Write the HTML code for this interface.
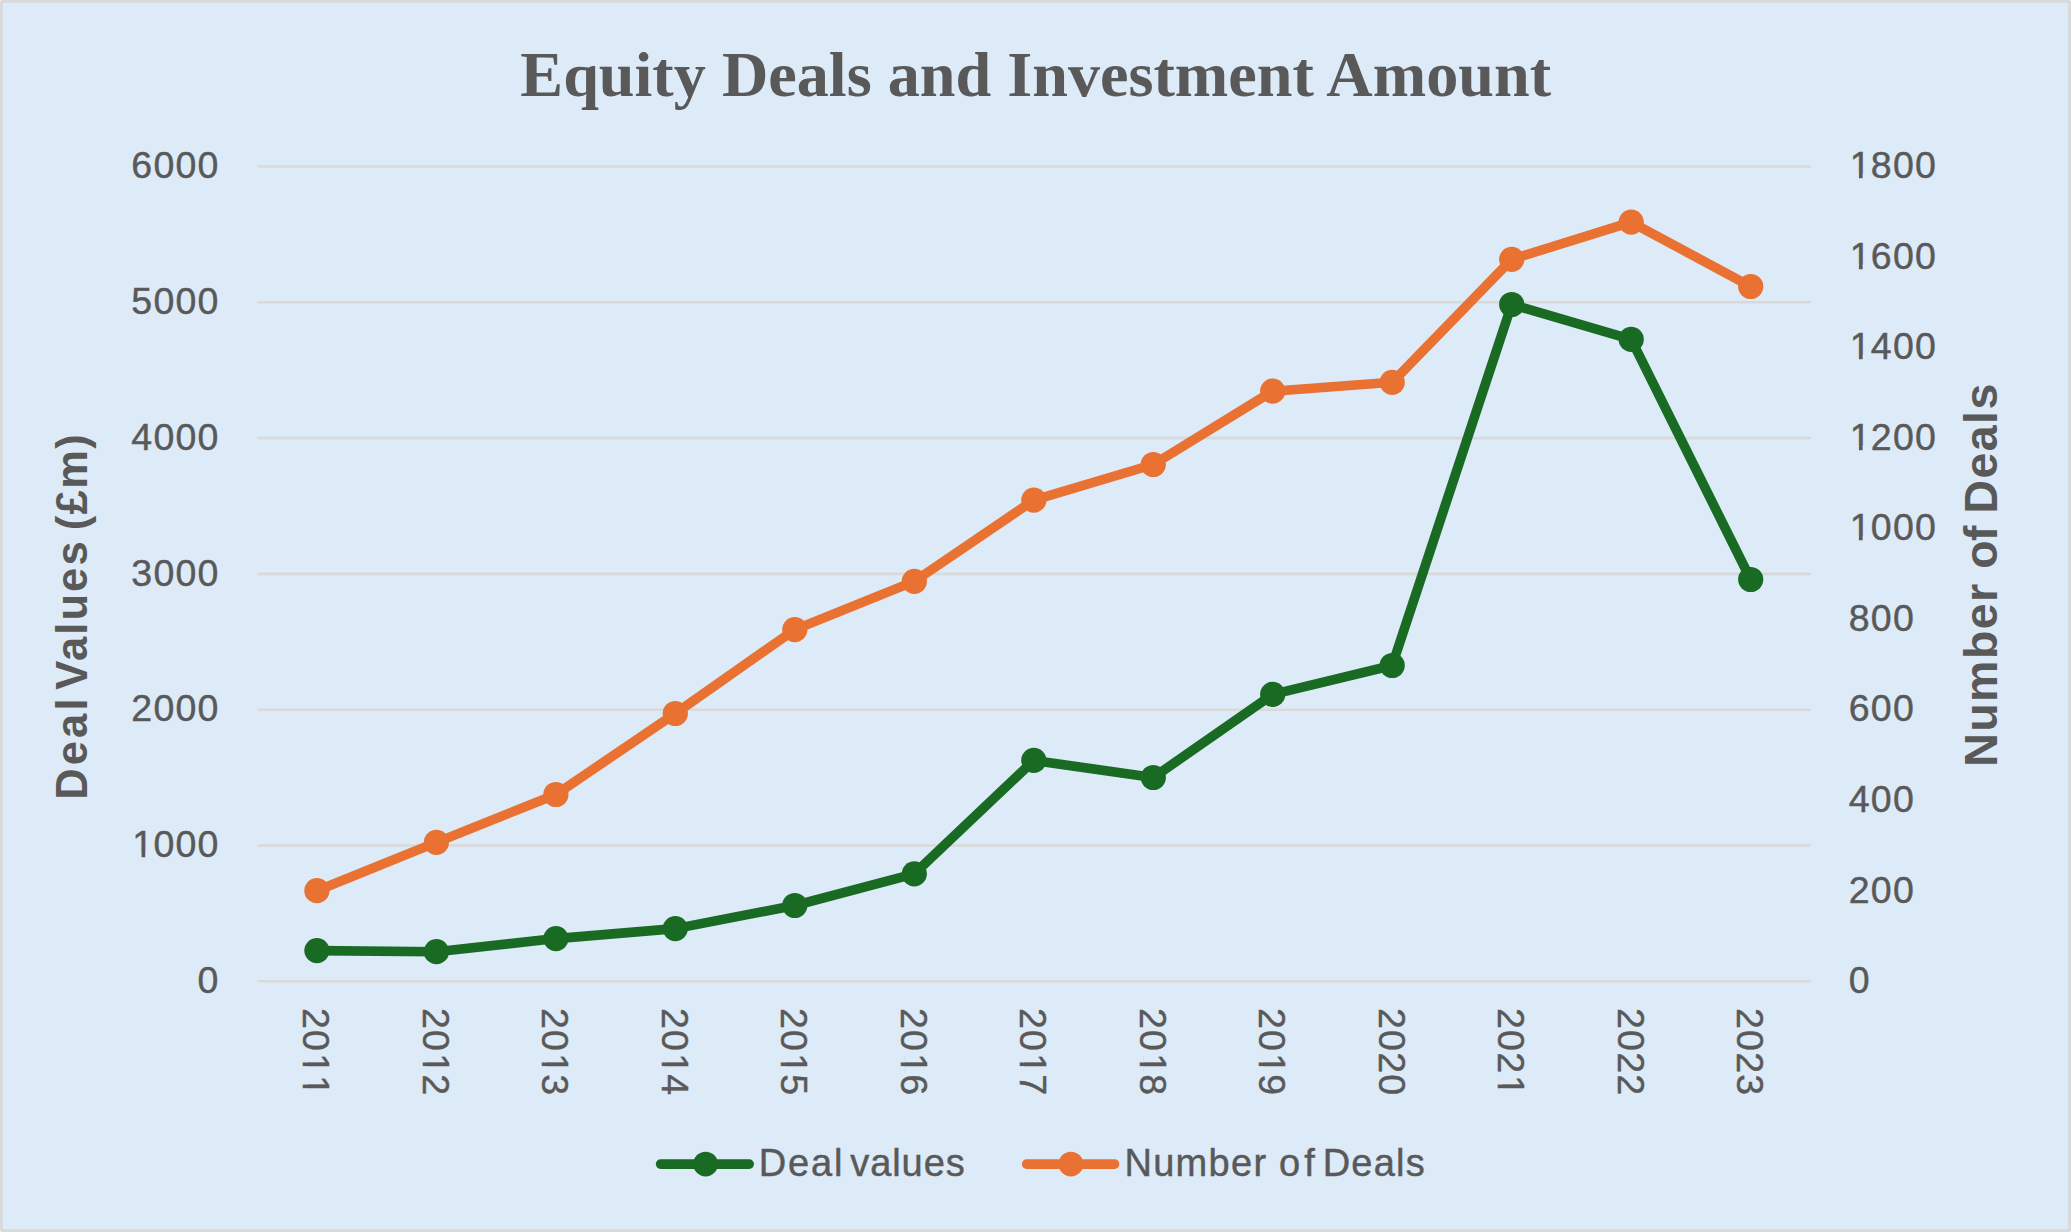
<!DOCTYPE html>
<html lang="en"><head><meta charset="utf-8"><title>Equity Deals and Investment Amount</title>
<style>
html,body{margin:0;padding:0;background:#fff;}
body{width:2071px;height:1232px;overflow:hidden;}
svg{display:block;}
text{font-family:"Liberation Sans",sans-serif;fill:#595959;}
.num,.cat,.leg{stroke:#595959;stroke-width:0.45px;}
.num{font-size:37.5px;}
.cat{font-size:37.5px;}
.title{font-family:"Liberation Serif",serif;font-weight:bold;font-size:64.2px;letter-spacing:0px;}
.lt{font-weight:bold;font-size:43.5px;letter-spacing:0px;}
.rt{font-weight:bold;font-size:46.5px;letter-spacing:0px;}
.leg{font-size:38px;letter-spacing:0px;}
</style></head><body>
<svg xmlns="http://www.w3.org/2000/svg" width="2071" height="1232" viewBox="0 0 2071 1232">
<rect x="0" y="0" width="2071" height="1232" rx="2" ry="2" fill="#D9D9D9"/>
<rect x="2.8" y="2.8" width="2065.4" height="1226.4" rx="0.8" ry="0.8" fill="#DDEAF7"/>
<g stroke="#D9D9D9" stroke-width="2.6" stroke-linecap="round">
<line x1="258.7" y1="981.3" x2="1809.6" y2="981.3"/>
<line x1="258.7" y1="845.5" x2="1809.6" y2="845.5"/>
<line x1="258.7" y1="709.7" x2="1809.6" y2="709.7"/>
<line x1="258.7" y1="573.9" x2="1809.6" y2="573.9"/>
<line x1="258.7" y1="438.1" x2="1809.6" y2="438.1"/>
<line x1="258.7" y1="302.3" x2="1809.6" y2="302.3"/>
<line x1="258.7" y1="166.5" x2="1809.6" y2="166.5"/>
</g>
<text class="title" x="1035.7" y="95.6" text-anchor="middle">Equity Deals and Investment Amount</text>
<text class="num" x="197.60" y="993.0">0</text>
<text class="num" x="132.30 153.40 175.50 197.60" y="857.2">1000</text><rect x="133.56" y="853.20" width="7.97" height="6.20" fill="#DDEAF7"/><rect x="145.24" y="853.20" width="7.68" height="6.20" fill="#DDEAF7"/>
<text class="num" x="131.30 153.40 175.50 197.60" y="721.4">2000</text>
<text class="num" x="131.30 153.40 175.50 197.60" y="585.6">3000</text>
<text class="num" x="131.30 153.40 175.50 197.60" y="449.8">4000</text>
<text class="num" x="131.30 153.40 175.50 197.60" y="314.0">5000</text>
<text class="num" x="131.30 153.40 175.50 197.60" y="178.2">6000</text>
<text class="num" x="1848.70" y="993.0">0</text>
<text class="num" x="1848.70 1870.80 1892.90" y="902.5">200</text>
<text class="num" x="1848.70 1870.80 1892.90" y="811.9">400</text>
<text class="num" x="1848.70 1870.80 1892.90" y="721.4">600</text>
<text class="num" x="1848.70 1870.80 1892.90" y="630.9">800</text>
<text class="num" x="1849.70 1870.80 1892.90 1915.00" y="540.3">1000</text><rect x="1850.96" y="536.33" width="7.97" height="6.20" fill="#DDEAF7"/><rect x="1862.64" y="536.33" width="7.68" height="6.20" fill="#DDEAF7"/>
<text class="num" x="1849.70 1870.80 1892.90 1915.00" y="449.8">1200</text><rect x="1850.96" y="445.80" width="7.97" height="6.20" fill="#DDEAF7"/><rect x="1862.64" y="445.80" width="7.68" height="6.20" fill="#DDEAF7"/>
<text class="num" x="1849.70 1870.80 1892.90 1915.00" y="359.3">1400</text><rect x="1850.96" y="355.27" width="7.97" height="6.20" fill="#DDEAF7"/><rect x="1862.64" y="355.27" width="7.68" height="6.20" fill="#DDEAF7"/>
<text class="num" x="1849.70 1870.80 1892.90 1915.00" y="268.7">1600</text><rect x="1850.96" y="264.73" width="7.97" height="6.20" fill="#DDEAF7"/><rect x="1862.64" y="264.73" width="7.68" height="6.20" fill="#DDEAF7"/>
<text class="num" x="1849.70 1870.80 1892.90 1915.00" y="178.2">1800</text><rect x="1850.96" y="174.20" width="7.97" height="6.20" fill="#DDEAF7"/><rect x="1862.64" y="174.20" width="7.68" height="6.20" fill="#DDEAF7"/>
<g transform="translate(303.3 1008.0) rotate(90)"><text class="cat" x="0.00 22.10 45.20 67.30" y="0.0">2011</text><rect x="46.46" y="-4.00" width="7.97" height="6.20" fill="#DDEAF7"/><rect x="58.14" y="-4.00" width="7.68" height="6.20" fill="#DDEAF7"/><rect x="68.56" y="-4.00" width="7.97" height="6.20" fill="#DDEAF7"/><rect x="80.24" y="-4.00" width="7.68" height="6.20" fill="#DDEAF7"/></g>
<g transform="translate(422.8 1008.0) rotate(90)"><text class="cat" x="0.00 22.10 45.20 66.30" y="0.0">2012</text><rect x="46.46" y="-4.00" width="7.97" height="6.20" fill="#DDEAF7"/><rect x="58.14" y="-4.00" width="7.68" height="6.20" fill="#DDEAF7"/></g>
<g transform="translate(542.3 1008.0) rotate(90)"><text class="cat" x="0.00 22.10 45.20 66.30" y="0.0">2013</text><rect x="46.46" y="-4.00" width="7.97" height="6.20" fill="#DDEAF7"/><rect x="58.14" y="-4.00" width="7.68" height="6.20" fill="#DDEAF7"/></g>
<g transform="translate(661.7 1008.0) rotate(90)"><text class="cat" x="0.00 22.10 45.20 66.30" y="0.0">2014</text><rect x="46.46" y="-4.00" width="7.97" height="6.20" fill="#DDEAF7"/><rect x="58.14" y="-4.00" width="7.68" height="6.20" fill="#DDEAF7"/></g>
<g transform="translate(781.2 1008.0) rotate(90)"><text class="cat" x="0.00 22.10 45.20 66.30" y="0.0">2015</text><rect x="46.46" y="-4.00" width="7.97" height="6.20" fill="#DDEAF7"/><rect x="58.14" y="-4.00" width="7.68" height="6.20" fill="#DDEAF7"/></g>
<g transform="translate(900.7 1008.0) rotate(90)"><text class="cat" x="0.00 22.10 45.20 66.30" y="0.0">2016</text><rect x="46.46" y="-4.00" width="7.97" height="6.20" fill="#DDEAF7"/><rect x="58.14" y="-4.00" width="7.68" height="6.20" fill="#DDEAF7"/></g>
<g transform="translate(1020.2 1008.0) rotate(90)"><text class="cat" x="0.00 22.10 45.20 66.30" y="0.0">2017</text><rect x="46.46" y="-4.00" width="7.97" height="6.20" fill="#DDEAF7"/><rect x="58.14" y="-4.00" width="7.68" height="6.20" fill="#DDEAF7"/></g>
<g transform="translate(1139.7 1008.0) rotate(90)"><text class="cat" x="0.00 22.10 45.20 66.30" y="0.0">2018</text><rect x="46.46" y="-4.00" width="7.97" height="6.20" fill="#DDEAF7"/><rect x="58.14" y="-4.00" width="7.68" height="6.20" fill="#DDEAF7"/></g>
<g transform="translate(1259.1 1008.0) rotate(90)"><text class="cat" x="0.00 22.10 45.20 66.30" y="0.0">2019</text><rect x="46.46" y="-4.00" width="7.97" height="6.20" fill="#DDEAF7"/><rect x="58.14" y="-4.00" width="7.68" height="6.20" fill="#DDEAF7"/></g>
<g transform="translate(1378.6 1008.0) rotate(90)"><text class="cat" x="0.00 22.10 44.20 66.30" y="0.0">2020</text></g>
<g transform="translate(1498.1 1008.0) rotate(90)"><text class="cat" x="0.00 22.10 44.20 67.30" y="0.0">2021</text><rect x="68.56" y="-4.00" width="7.97" height="6.20" fill="#DDEAF7"/><rect x="80.24" y="-4.00" width="7.68" height="6.20" fill="#DDEAF7"/></g>
<g transform="translate(1617.6 1008.0) rotate(90)"><text class="cat" x="0.00 22.10 44.20 66.30" y="0.0">2022</text></g>
<g transform="translate(1737.1 1008.0) rotate(90)"><text class="cat" x="0.00 22.10 44.20 66.30" y="0.0">2023</text></g>
<text class="lt" transform="translate(87.4 799.8) rotate(-90)"><tspan x="0.0" style="letter-spacing:3.13px">Deal</tspan> <tspan x="110.0" style="letter-spacing:2.11px">Values</tspan> <tspan x="269.5" style="letter-spacing:1.41px">(£m)</tspan></text>
<text class="rt" transform="translate(1997.4 766.7) rotate(-90)"><tspan x="0.0" style="letter-spacing:1.42px">Number</tspan> <tspan x="198.0" style="letter-spacing:-0.8px">of</tspan> <tspan x="253.2" style="letter-spacing:1.42px">Deals</tspan></text>
<polyline points="316.9,890.7 436.4,842.4 555.9,794.5 675.3,713.5 794.8,629.6 914.3,581.4 1033.8,500.2 1153.3,464.5 1272.7,391.2 1392.2,382.3 1511.7,259.3 1631.2,222.2 1750.7,286.5" fill="none" stroke="#E97132" stroke-width="9.6" stroke-linejoin="round" stroke-linecap="round"/>
<g fill="#E97132">
<circle cx="316.9" cy="890.7" r="12.6"/>
<circle cx="436.4" cy="842.4" r="12.6"/>
<circle cx="555.9" cy="794.5" r="12.6"/>
<circle cx="675.3" cy="713.5" r="12.6"/>
<circle cx="794.8" cy="629.6" r="12.6"/>
<circle cx="914.3" cy="581.4" r="12.6"/>
<circle cx="1033.8" cy="500.2" r="12.6"/>
<circle cx="1153.3" cy="464.5" r="12.6"/>
<circle cx="1272.7" cy="391.2" r="12.6"/>
<circle cx="1392.2" cy="382.3" r="12.6"/>
<circle cx="1511.7" cy="259.3" r="12.6"/>
<circle cx="1631.2" cy="222.2" r="12.6"/>
<circle cx="1750.7" cy="286.5" r="12.6"/>
</g>
<polyline points="316.9,950.6 436.4,951.7 555.9,938.6 675.3,928.6 794.8,905.5 914.3,873.8 1033.8,760.4 1153.3,777.5 1272.7,694.4 1392.2,665.5 1511.7,304.5 1631.2,339.4 1750.7,579.5" fill="none" stroke="#196B24" stroke-width="9.6" stroke-linejoin="round" stroke-linecap="round"/>
<g fill="#196B24">
<circle cx="316.9" cy="950.6" r="12.6"/>
<circle cx="436.4" cy="951.7" r="12.6"/>
<circle cx="555.9" cy="938.6" r="12.6"/>
<circle cx="675.3" cy="928.6" r="12.6"/>
<circle cx="794.8" cy="905.5" r="12.6"/>
<circle cx="914.3" cy="873.8" r="12.6"/>
<circle cx="1033.8" cy="760.4" r="12.6"/>
<circle cx="1153.3" cy="777.5" r="12.6"/>
<circle cx="1272.7" cy="694.4" r="12.6"/>
<circle cx="1392.2" cy="665.5" r="12.6"/>
<circle cx="1511.7" cy="304.5" r="12.6"/>
<circle cx="1631.2" cy="339.4" r="12.6"/>
<circle cx="1750.7" cy="579.5" r="12.6"/>
</g>
<line x1="660.6" y1="1164.1" x2="749.2" y2="1164.1" stroke="#196B24" stroke-width="9.6" stroke-linecap="round"/>
<circle cx="705.6" cy="1164.1" r="12.4" fill="#196B24"/>
<text class="leg" y="1175.8"><tspan x="758.8" style="letter-spacing:1.83px">Deal</tspan> <tspan x="850.2" style="letter-spacing:0.95px">values</tspan></text>
<line x1="1026.6" y1="1164.1" x2="1114.6" y2="1164.1" stroke="#E97132" stroke-width="9.6" stroke-linecap="round"/>
<circle cx="1070.9" cy="1164.1" r="12.4" fill="#E97132"/>
<text class="leg" y="1175.8"><tspan x="1124.4" style="letter-spacing:1.32px">Number</tspan> <tspan x="1278.9" style="letter-spacing:4.17px">of</tspan> <tspan x="1322.7" style="letter-spacing:1.21px">Deals</tspan></text>
</svg>
</body></html>
